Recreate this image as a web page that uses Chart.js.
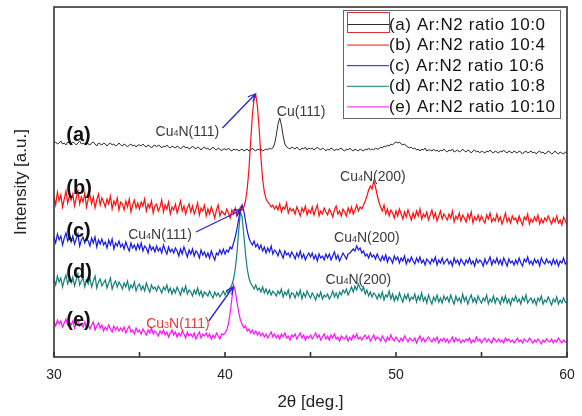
<!DOCTYPE html>
<html>
<head>
<meta charset="utf-8">
<script src="https://cdn.jsdelivr.net/npm/chart.js@4.4.0/dist/chart.umd.min.js"></script>
<style>
  html, body { margin: 0; padding: 0; background: #fff; }
</style>
</head>
<body>
<canvas id="xrd" width="582" height="416"></canvas>
<script>
// step scan 30..60 deg, 0.1 deg per point
const scanStart = 30;
const scanStep = 0.1;

const seriesNames = [
    '(a) Ar:N2 ratio 10:0',
    '(b) Ar:N2 ratio 10:4',
    '(c) Ar:N2 ratio 10:6',
    '(d) Ar:N2 ratio 10:8',
    '(e) Ar:N2 ratio 10:10'
];
const seriesColors = ['#2b2b2b', '#ff1010', '#1818e8', '#12807a', '#ff10ff'];
const curveTags = ['(a)', '(b)', '(c)', '(d)', '(e)'];

// stacked intensities (a.u., offset per sample)
const ratio10_0 = [
    214,215,213,214,216,213,214,212,215,214,
    213,215,214,212,214,216,213,214,213,215,
    213,212,214,215,213,211,214,213,212,214,
    213,211,213,214,212,213,211,212,214,212,
    211,213,212,210,212,213,211,212,210,212,
    212,211,213,211,210,212,211,209,211,212,
    210,212,211,209,211,210,212,210,209,211,
    210,209,211,210,208,210,211,209,210,208,
    209,211,209,208,210,209,207,209,210,208,
    209,207,208,210,208,207,209,208,206,208,
    208,207,209,207,206,208,207,208,206,207,
    208,206,207,208,206,207,209,207,206,208,
    207,208,206,207,208,207,209,208,209,213,
    222,233,239,232,221,213,210,209,208,210,
    209,208,210,208,207,209,208,210,207,209,
    208,209,207,208,210,208,207,209,208,206,
    208,207,209,208,206,208,207,208,209,207,
    206,208,207,209,207,206,208,207,206,208,
    207,206,208,207,209,207,208,207,209,208,
    208,210,209,211,210,212,211,213,212,214,
    215,214,215,213,212,213,211,210,209,210,
    208,209,207,208,206,208,207,209,206,207,
    207,206,208,206,207,205,207,206,208,206,
    205,207,206,208,205,206,207,205,206,208,
    206,205,207,206,204,206,207,205,206,204,
    206,205,204,206,205,207,205,204,206,205,
    204,206,205,207,205,204,206,205,204,206,
    205,204,206,205,203,205,206,204,205,206,
    204,205,203,205,206,204,205,203,204,206,
    205,203,204,206,204,203,205,204,203,205,
    204
];
const ratio10_4 = [
    160,152,165,156,162,150,158,166,154,161,
    157,163,151,159,166,153,160,155,164,150,
    158,162,153,160,149,157,163,152,159,155,
    150,158,153,161,148,156,152,159,147,155,
    153,147,156,150,158,145,152,157,149,154,
    148,155,151,158,146,153,149,156,144,151,
    153,146,150,157,145,152,148,155,143,150,
    147,153,144,150,156,146,151,143,149,153,
    145,151,143,148,154,142,149,146,152,141,
    148,143,150,145,139,147,152,141,146,144,
    142,148,144,139,147,143,149,141,146,150,
    147,150,156,168,188,215,242,258,262,250,
    228,200,178,165,158,155,153,150,152,148,
    151,147,153,145,150,148,154,144,149,146,
    148,143,150,146,141,149,145,151,142,147,
    144,150,142,147,152,141,146,143,149,145,
    142,148,145,140,147,151,143,146,141,148,
    145,141,149,144,150,143,147,152,146,150,
    148,152,156,161,167,171,168,176,170,162,
    155,150,146,152,143,148,141,147,144,139,
    146,141,148,143,138,145,140,147,142,137,
    144,139,146,141,148,138,143,140,145,137,
    142,147,139,144,136,141,146,138,143,140,
    137,143,139,146,135,141,138,144,136,142,
    139,135,143,138,145,134,140,137,142,136,
    141,137,134,142,138,144,135,139,136,143,
    136,140,133,138,144,135,139,134,141,137,
    139,134,141,136,132,140,137,143,133,138,
    135,140,136,142,133,138,134,139,136,141,
    137,133,139,135,141,134,137,132,140,136,
    133
];
const ratio10_6 = [
    120,114,123,117,121,112,119,124,116,120,
    115,121,113,118,123,111,117,120,114,119,
    116,111,119,114,120,110,117,113,118,112,
    115,109,117,112,118,108,114,111,116,110,
    113,108,115,110,106,114,109,112,107,113,
    108,114,106,111,109,104,112,107,110,105,
    111,106,109,104,112,107,103,110,105,108,
    104,109,106,101,108,103,110,105,100,107,
    103,108,101,106,104,99,107,102,105,100,
    104,99,106,101,97,104,102,107,103,108,
    103,107,105,110,108,114,120,128,138,147,
    152,146,136,126,119,115,112,116,110,113,
    108,112,106,110,104,109,105,111,103,107,
    105,101,107,103,99,106,102,104,100,105,
    102,98,104,100,106,99,103,97,101,104,
    100,104,98,102,96,103,99,101,97,103,
    99,103,97,101,105,98,102,96,100,104,
    101,98,103,104,106,108,106,111,107,109,
    104,106,101,103,99,104,100,102,98,103,
    99,96,101,97,102,95,100,98,94,101,
    97,100,94,99,96,101,93,98,95,100,
    96,93,99,95,100,94,97,92,98,96,
    93,98,95,100,92,97,94,99,93,96,
    98,93,96,91,99,94,97,92,98,95,
    92,97,94,99,93,96,91,98,94,97,
    95,91,98,93,96,100,92,97,94,99,
    93,97,92,99,95,91,98,94,96,92,
    97,93,99,94,91,98,95,100,93,96,
    92,98,94,97,91,99,95,93,98,94,
    96,92,98,93,97,91,96,94,99,93,
    95
];
const ratio10_8 = [
    78,72,81,75,79,70,77,82,73,78,
    74,80,71,77,83,72,76,79,70,77,
    73,79,70,76,81,69,75,78,71,74,
    77,69,74,79,68,73,76,70,75,72,
    68,74,70,76,67,72,69,75,66,71,
    73,67,71,66,74,69,65,72,68,70,
    66,71,68,64,70,67,72,65,69,63,
    68,64,70,66,62,69,65,71,63,67,
    65,61,67,63,69,62,66,60,65,63,
    61,66,62,59,65,61,64,60,63,66,
    62,66,64,69,72,78,88,104,126,145,
    140,122,103,88,79,74,71,68,72,67,
    69,65,70,64,68,63,67,62,66,64,
    61,66,63,68,60,65,62,67,59,64,
    63,59,65,61,67,58,64,60,66,62,
    59,64,61,57,63,60,65,58,62,60,
    63,58,61,66,60,64,59,65,62,67,
    64,68,62,66,70,65,71,67,73,69,
    66,70,63,67,61,65,60,64,62,58,
    63,59,65,57,62,60,66,58,63,56,
    61,57,64,59,55,62,58,63,56,60,
    58,63,55,61,57,64,56,60,54,62,
    57,53,60,56,62,55,59,54,61,57,
    60,55,62,57,53,61,56,59,54,63,
    56,60,53,58,62,55,59,54,61,57,
    54,59,56,62,53,58,55,61,54,59,
    57,53,60,55,61,54,58,52,59,56,
    61,55,58,53,60,56,62,54,57,59,
    54,58,52,59,56,61,53,57,55,60,
    56,52,58,55,60,53,57,54,59,55,
    54
];
const ratio10_10 = [
    35,31,37,33,36,30,34,38,32,35,
    32,36,29,34,37,31,33,30,35,29,
    33,28,32,35,27,31,34,29,32,26,
    30,27,32,28,25,31,27,30,26,29,
    26,30,24,28,31,25,27,23,29,25,
    27,23,28,25,22,27,24,29,23,26,
    24,21,26,23,27,22,25,20,24,27,
    22,25,20,24,21,26,23,19,25,21,
    23,20,24,18,22,25,19,23,21,24,
    20,23,18,22,19,24,21,18,23,22,
    24,27,33,44,58,72,66,55,45,37,
    33,29,31,26,28,24,27,23,26,22,
    25,21,24,20,23,19,22,25,20,23,
    19,22,18,23,20,24,19,21,17,22,
    20,23,18,21,24,19,22,17,21,19,
    22,18,21,24,19,22,17,20,23,18,
    21,17,22,19,23,18,20,16,21,19,
    18,21,16,20,17,22,19,23,18,20,
    17,20,22,18,21,16,19,22,17,20,
    19,16,21,18,15,20,17,22,18,16,
    20,17,15,19,16,21,18,15,19,17,
    16,19,14,18,21,16,19,15,18,20,
    17,15,19,16,20,14,18,16,19,15,
    18,14,17,20,15,19,16,18,14,17,
    15,18,16,19,14,17,15,20,16,18,
    14,17,19,15,18,16,14,19,17,15,
    18,15,17,14,19,16,18,15,17,14,
    16,19,15,17,14,18,16,15,19,17,
    14,17,15,18,16,13,17,15,18,16,
    15,18,14,17,15,19,16,14,17,15,
    16
];
const allSeries = [ratio10_0, ratio10_4, ratio10_6, ratio10_8, ratio10_10];

// where the (a)..(e) tags sit, in data units
const tagX = 30.72;
const tagY = [222, 169, 126, 85, 37];

// peak annotations: text parts (small index in the middle), position, colour, optional arrow
const peakNotes = [
    { parts: ['Cu', '4', 'N(111)'], x: 37.8, y: 226, color: '#3a3a3a', arrow: [39.85, 229, 41.78, 263] },
    { parts: ['Cu(111)'], x: 44.45, y: 246, color: '#3a3a3a' },
    { parts: ['Cu', '4', 'N(200)'], x: 48.65, y: 181, color: '#3a3a3a' },
    { parts: ['Cu', '4', 'N(111)'], x: 36.2, y: 123, color: '#3a3a3a', arrow: [38.3, 125, 40.95, 147] },
    { parts: ['Cu', '4', 'N(200)'], x: 48.3, y: 120, color: '#3a3a3a' },
    { parts: ['Cu', '4', 'N(200)'], x: 47.8, y: 78, color: '#3a3a3a' },
    { parts: ['Cu', '3', 'N(111)'], x: 37.25, y: 34, color: '#e83a3a', arrow: [39.05, 36, 40.48, 70] }
];

const FONT = 'Arial, "Liberation Sans", sans-serif';

const toPoints = vals => vals.map((v, i) => ({ x: scanStart + i * scanStep, y: v }));

function drawChem(ctx, parts, cx, cy, color) {
    const big = '14px ' + FONT, small = '9px ' + FONT;
    let w = 0;
    parts.forEach((p, i) => { ctx.font = i === 1 ? small : big; w += ctx.measureText(p).width; });
    let px = cx - w / 2;
    ctx.fillStyle = color;
    ctx.textAlign = 'left';
    ctx.textBaseline = 'alphabetic';
    parts.forEach((p, i) => {
        ctx.font = i === 1 ? small : big;
        ctx.fillText(p, px, cy + 5);
        px += ctx.measureText(p).width;
    });
}

function drawArrow(ctx, x0, y0, x1, y1) {
    const ang = Math.atan2(y1 - y0, x1 - x0);
    const head = 8;
    ctx.strokeStyle = '#2424d8';
    ctx.lineWidth = 1.3;
    ctx.beginPath();
    ctx.moveTo(x0, y0);
    ctx.lineTo(x1, y1);
    ctx.moveTo(x1 - head * Math.cos(ang - 0.45), y1 - head * Math.sin(ang - 0.45));
    ctx.lineTo(x1, y1);
    ctx.lineTo(x1 - head * Math.cos(ang + 0.45), y1 - head * Math.sin(ang + 0.45));
    ctx.stroke();
}

const decorPlugin = {
    id: 'decor',
    afterDatasetsDraw(chart) {
        const { ctx, chartArea: area, scales: { x, y } } = chart;
        ctx.save();

        // frame and inward ticks on the 2theta axis
        ctx.strokeStyle = '#333';
        ctx.lineWidth = 1.6;
        ctx.strokeRect(area.left, area.top, area.right - area.left, area.bottom - area.top);
        x.ticks.forEach(t => {
            const px = x.getPixelForValue(t.value);
            ctx.beginPath();
            ctx.moveTo(px, area.bottom);
            ctx.lineTo(px, area.bottom - 5);
            ctx.stroke();
        });

        // curve tags
        ctx.fillStyle = '#111';
        ctx.font = 'bold 20px ' + FONT;
        ctx.textAlign = 'left';
        ctx.textBaseline = 'middle';
        curveTags.forEach((t, i) => ctx.fillText(t, x.getPixelForValue(tagX), y.getPixelForValue(tagY[i])));

        // peak labels and arrows
        peakNotes.forEach(n => {
            drawChem(ctx, n.parts, x.getPixelForValue(n.x), y.getPixelForValue(n.y), n.color);
            if (n.arrow) {
                const [ax0, ay0, ax1, ay1] = n.arrow;
                drawArrow(ctx, x.getPixelForValue(ax0), y.getPixelForValue(ay0),
                    x.getPixelForValue(ax1), y.getPixelForValue(ay1));
            }
        });

        // legend box, top right inside the plot
        const lw = 217, lh = 108;
        const lx = area.right - 7 - lw, ly = area.top + 3;
        ctx.fillStyle = '#fff';
        ctx.fillRect(lx, ly, lw, lh);
        ctx.strokeStyle = '#666';
        ctx.lineWidth = 1;
        ctx.strokeRect(lx + 0.5, ly + 0.5, lw, lh);
        ctx.font = '17px ' + FONT;
        ctx.letterSpacing = '0.6px';
        ctx.textBaseline = 'middle';
        chart.data.datasets.forEach((ds, i) => {
            const ry = ly + 14 + i * 20.6;
            ctx.strokeStyle = ds.borderColor;
            ctx.lineWidth = 1;
            ctx.beginPath();
            ctx.moveTo(lx + 4, ry + 0.5);
            ctx.lineTo(lx + 46, ry + 0.5);
            ctx.stroke();
            ctx.fillStyle = '#111';
            ctx.fillText(ds.label, lx + 46, ry + 1);
        });
        ctx.letterSpacing = '0px';
        // red marker frame around the first sample line
        ctx.strokeStyle = '#e03030';
        ctx.strokeRect(lx + 4.5, ly + 2.5, 42, 20);

        ctx.restore();
    }
};

new Chart(document.getElementById('xrd'), {
    type: 'line',
    data: {
        datasets: allSeries.map((vals, i) => ({
            label: seriesNames[i],
            data: toPoints(vals),
            borderColor: seriesColors[i],
            borderWidth: i === 0 ? 1 : 1.2,
            pointRadius: 0,
            tension: 0,
            fill: false
        }))
    },
    options: {
        responsive: false,
        animation: false,
        layout: { padding: { top: 7, right: 15, left: 0, bottom: 0 } },
        plugins: { legend: { display: false }, tooltip: { enabled: false } },
        scales: {
            x: {
                type: 'linear',
                min: 30,
                max: 60,
                afterFit: s => {
                    s.height = 59;
                    // keep the end labels from shrinking the plot
                    s.paddingLeft = 0;
                    s.paddingRight = 0;
                },
                border: { display: false },
                grid: { drawOnChartArea: false, drawTicks: false, display: false },
                ticks: {
                    stepSize: 5,
                    padding: 10,
                    color: '#222',
                    font: { family: FONT, size: 14 },
                    callback: v => (v % 10 === 0 ? v : '')
                },
                title: {
                    display: true,
                    text: '2θ [deg.]',
                    color: '#222',
                    font: { family: FONT, size: 17 },
                    padding: { top: 0, bottom: 3 }
                }
            },
            y: {
                min: 0,
                max: 350,
                afterFit: s => { s.width = 54; },
                border: { display: false },
                grid: { display: false },
                ticks: { display: false },
                title: {
                    display: true,
                    text: 'Intensity [a.u.]',
                    color: '#222',
                    font: { family: FONT, size: 17 },
                    padding: { top: 11, bottom: 0 }
                }
            }
        }
    },
    plugins: [decorPlugin]
});
</script>
</body>
</html>
